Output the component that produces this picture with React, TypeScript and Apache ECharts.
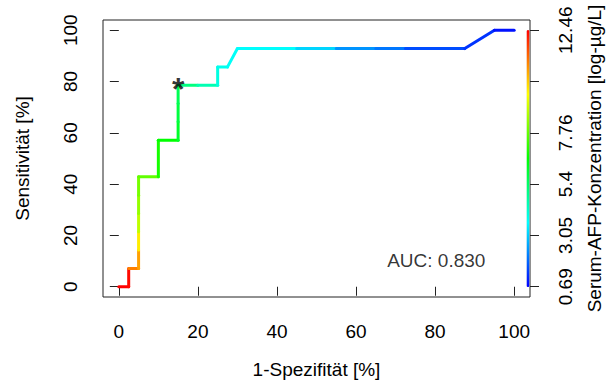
import React, { useEffect, useRef } from "react";
import * as echarts from "echarts";

// ROC curve points (1-Spezifität %, Sensitivität %) and cut-off of each point (log µg/L)
const fpr = [0, 2.5, 2.5, 5, 5, 5, 5, 5, 5, 10, 10, 15, 15, 15, 15, 20, 25, 25, 27.5, 30, 45, 55, 65, 72.5, 87.5, 95, 100];
const tpr = [0, 0, 7.14, 7.14, 14.29, 21.43, 28.57, 35.71, 42.86, 42.86, 57.14, 57.14, 64.29, 71.43, 78.57, 78.57, 78.57, 85.71, 85.71, 92.86, 92.86, 92.86, 92.86, 92.86, 92.86, 100, 100];
const cutoff = [12.46, 12.46, 12.36, 10.99, 10.6, 9.72, 8.78, 8.29, 7.95, 7.7, 6.83, 6.58, 6.09, 5.84, 5.6, 5.11, 4.52, 3.98, 3.83, 3.73, 3.64, 3.15, 2.4, 2.06, 1.58, 1.28, 0.89];

const xTicks = [0, 20, 40, 60, 80, 100];
const yTicks = [0, 20, 40, 60, 80, 100];
const colorbarTicks = [0, 20, 40, 60, 80, 100];
const colorbarLabelPos = [0, 20, 40, 60, 100];
const colorbarLabels = ["0.69", "3.05", "5.4", "7.76", "12.46"];
const cutoffMin = 0.69;
const cutoffMax = 12.46;
const optimalPoint = [15, 78.57];
const aucValue = 0.83;
const aucPos = [80.3, 10.2];
const rainbow = ["#0000ff", "#00ffff", "#00ff00", "#ffff00", "#ff0000"];

const FONT = "'Liberation Sans', Arial, sans-serif";

export default function App() {
  const ref = useRef<HTMLDivElement>(null);
  useEffect(() => {
    if (!ref.current) return;
    const chart = echarts.init(ref.current, undefined, { renderer: "svg" });
    const segments: number[][] = [];
    for (let i = 1; i < fpr.length; i++) {
      segments.push([fpr[i - 1], tpr[i - 1], fpr[i], tpr[i], cutoff[i]]);
    }
    const tickStyle = { lineStyle: { color: "#222", width: 1 } };
    const labelStyle = { fontSize: 19, color: "#000", fontFamily: FONT };
    chart.setOption({
      animation: false,
      textStyle: { fontFamily: FONT },
      grid: {
        left: 103,
        top: 20,
        width: 427,
        height: 277,
        show: true,
        borderColor: "#222",
        borderWidth: 1,
        backgroundColor: "transparent",
        containLabel: false,
        outerBoundsMode: "none",
      },
      visualMap: {
        type: "continuous",
        seriesIndex: 0,
        dimension: 4,
        min: cutoffMin,
        max: cutoffMax,
        orient: "vertical",
        left: 526.5,
        top: 30,
        padding: 0,
        itemWidth: 3,
        itemHeight: 257,
        calculable: false,
        hoverLink: false,
        text: null,
        inRange: { color: rainbow },
      },
      xAxis: {
        type: "value",
        min: -4,
        max: 104,
        axisLine: { show: false },
        splitLine: { show: false },
        axisTick: { show: true, customValues: xTicks, length: 9, ...tickStyle },
        axisLabel: { customValues: xTicks, margin: 25, ...labelStyle },
        name: "1-Spezifität [%]",
        nameLocation: "middle",
        nameGap: 63,
        nameTextStyle: labelStyle,
      },
      yAxis: [
        {
          type: "value",
          min: -4,
          max: 104,
          axisLine: { show: false },
          splitLine: { show: false },
          axisTick: { show: true, customValues: yTicks, length: 9, ...tickStyle },
          axisLabel: { customValues: yTicks, margin: 23.5, rotate: 90, ...labelStyle },
          name: "Sensitivität [%]",
          nameLocation: "middle",
          nameGap: 71,
          nameTextStyle: labelStyle,
        },
        {
          type: "value",
          position: "right",
          min: -4,
          max: 104,
          axisLine: { show: false },
          splitLine: { show: false },
          axisTick: { show: true, customValues: colorbarTicks, length: 9, ...tickStyle },
          axisLabel: {
            customValues: colorbarLabelPos,
            margin: 26,
            rotate: 90,
            ...labelStyle,
            formatter: (v: number) => {
              const i = colorbarLabelPos.indexOf(v);
              return i >= 0 ? colorbarLabels[i] : "";
            },
          },
          name: "Serum-AFP-Konzentration [log-µg/L]",
          nameLocation: "middle",
          nameGap: 55,
          nameTextStyle: labelStyle,
        },
      ],
      series: [
        {
          type: "custom",
          xAxisIndex: 0,
          yAxisIndex: 0,
          data: segments,
          encode: { x: [0, 2], y: [1, 3] },
          renderItem: (params: any, api: any) => {
            const p1 = api.coord([api.value(0), api.value(1)]);
            const p2 = api.coord([api.value(2), api.value(3)]);
            return {
              type: "line",
              shape: { x1: p1[0], y1: p1[1], x2: p2[0], y2: p2[1] },
              style: { stroke: api.visual("color"), lineWidth: 3, lineCap: "round" },
            };
          },
          silent: true,
        },
        {
          type: "scatter",
          data: [optimalPoint],
          symbolSize: 0,
          silent: true,
          label: {
            show: true,
            position: "inside",
            formatter: "*",
            fontSize: 32,
            fontWeight: "bold",
            color: "#000",
            fontFamily: FONT,
            offset: [0, 4],
          },
        },
        {
          type: "scatter",
          data: [aucPos],
          symbolSize: 0,
          silent: true,
          label: {
            show: true,
            position: "inside",
            formatter: "AUC: " + aucValue.toFixed(3),
            ...labelStyle,
          },
        },
      ],
    });
    return () => chart.dispose();
  }, []);
  return (
    <div
      ref={ref}
      style={{ position: "fixed", left: 0, top: 0, width: 606, height: 381, background: "#fff" }}
    />
  );
}
